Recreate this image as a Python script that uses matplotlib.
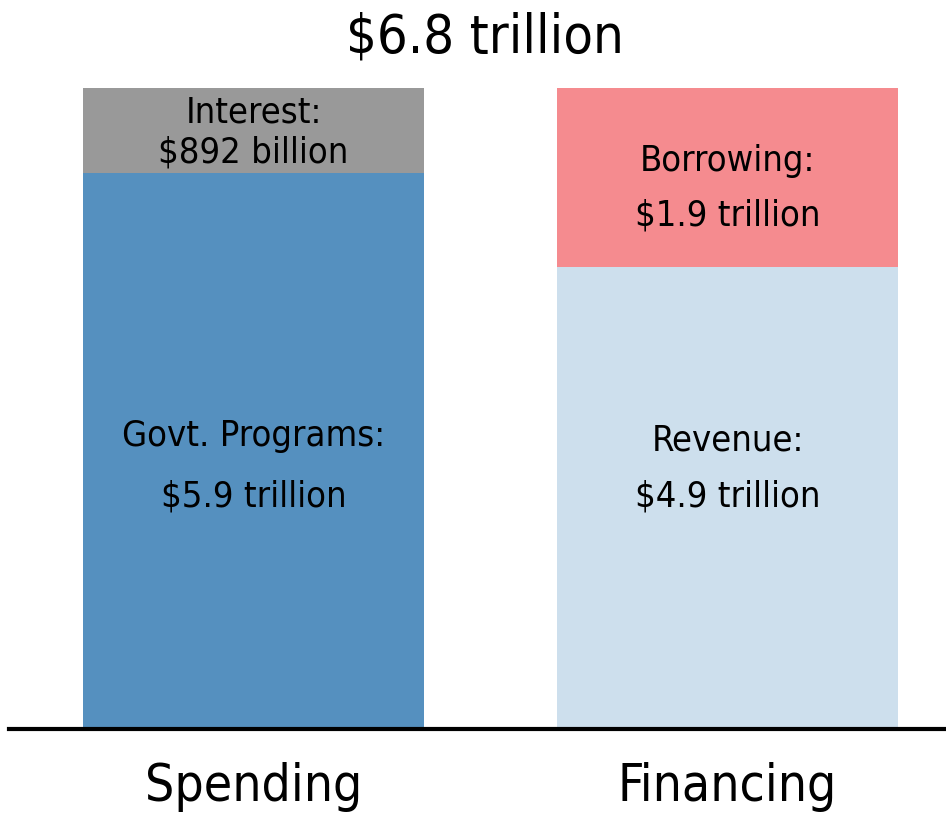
import matplotlib
matplotlib.use('Agg')
import matplotlib.pyplot as plt

# Federal budget: where the money goes vs. where it comes from (trillions)
categories = ['Spending', 'Financing']
lower_values = [5.9, 4.9]      # Govt. programs / revenue
upper_values = [0.892, 1.9]    # interest / borrowing
lower_names = ['Govt. Programs:', 'Revenue:']
upper_names = ['Interest:', 'Borrowing:']
lower_amounts = ['$5.9 trillion', '$4.9 trillion']
upper_amounts = ['$892 billion', '$1.9 trillion']
total_label = '$6.8 trillion'

lower_colors = ['#5590bf', '#cddfed']
upper_colors = ['#999999', '#f58b8f']

plt.rcParams['font.family'] = ['DejaVu Sans']
plt.rcParams['font.stretch'] = 'condensed'

fig = plt.figure(figsize=(9.46, 8.17), dpi=100)
ax = fig.add_axes([9 / 946, 88.5 / 817, 937 / 946, 640 / 817])

x = range(len(categories))
ax.bar(x, lower_values, width=0.72, color=lower_colors)
ax.bar(x, upper_values, width=0.72, bottom=lower_values, color=upper_colors)

ax.set_xlim(-0.516, 1.461)
ax.set_ylim(0, upper_values[0] + lower_values[0])

for s in ['top', 'left', 'right']:
    ax.spines[s].set_visible(False)
ax.spines['bottom'].set_linewidth(3)
ax.set_yticks([])
ax.set_xticks(list(x))
ax.set_xticklabels(categories, fontsize=37)
ax.tick_params(axis='x', length=0, pad=24)

# label text inside the segments
name_y = [(6.535, 3.105), (6.025, 3.06)]
amt_y = [(6.11, 2.46), (5.44, 2.46)]
for i in x:
    ax.text(i, name_y[i][0], upper_names[i], ha='center', va='center', fontsize=26)
    ax.text(i, amt_y[i][0], upper_amounts[i], ha='center', va='center', fontsize=26)
    ax.text(i, name_y[i][1], lower_names[i], ha='center', va='center', fontsize=26)
    ax.text(i, amt_y[i][1], lower_amounts[i], ha='center', va='center', fontsize=26)

fig.text(485 / 946, 1 - 37 / 817, total_label, ha='center', va='center', fontsize=39)

fig.savefig('out.png', dpi=100)
